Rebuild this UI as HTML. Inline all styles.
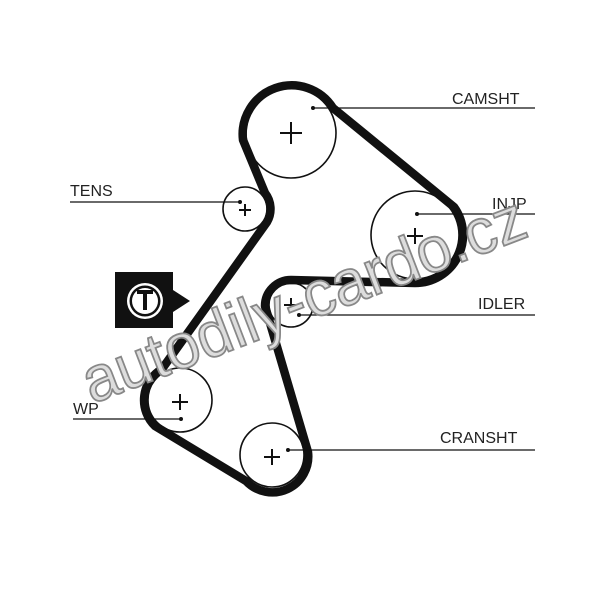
<!DOCTYPE html>
<html><head><style>
html,body{margin:0;padding:0;background:#fff;}
svg{display:block;}
text{font-family:"Liberation Sans",sans-serif;}
</style></head><body>
<svg width="600" height="589" viewBox="0 0 600 589">
<rect width="600" height="589" fill="#fff"/>
<g fill="none" stroke="#111" stroke-width="1.6">
<circle cx="291" cy="133" r="45"/>
<circle cx="245" cy="209" r="22"/>
<circle cx="415" cy="235" r="44"/>
<circle cx="291" cy="305" r="22"/>
<circle cx="180" cy="400" r="32"/>
<circle cx="272" cy="455" r="32"/>
</g>
<path d="M243,140 A49,49 0 0 1 333,108 L454,207 A48,48 0 0 1 415,283 L291,280 A26,26 0 0 0 265,306 L308,452 A36,36 0 0 1 246,481 L155,426 A36,36 0 0 1 162,369 L267,222 A26,26 0 0 0 265,193 Z" fill="none" stroke="#111" stroke-width="8.5" stroke-linejoin="round"/>
<g stroke="#111" stroke-width="2">
<path d="M280,133h22M291,122v22"/>
<path d="M239,210h12M245,204v12"/>
<path d="M407,236h16M415,228v16"/>
<path d="M284,305h14M291,298v14"/>
<path d="M172,402h16M180,394v16"/>
<path d="M264,457h16M272,449v16"/>
</g>
<g stroke="#111" stroke-width="1.3">
<line x1="313" y1="108" x2="535" y2="108"/>
<line x1="70" y1="202" x2="240" y2="202"/>
<line x1="417" y1="214" x2="535" y2="214"/>
<line x1="299" y1="315" x2="535" y2="315"/>
<line x1="73" y1="419" x2="181" y2="419"/>
<line x1="288" y1="450" x2="535" y2="450"/>
</g>
<g fill="#111">
<circle cx="313" cy="108" r="2"/><circle cx="240" cy="202" r="2"/>
<circle cx="417" cy="214" r="2"/><circle cx="299" cy="315" r="2"/>
<circle cx="181" cy="419" r="2"/><circle cx="288" cy="450" r="2"/>
</g>
<g font-size="16" fill="#222">
<text x="452" y="104">CAMSHT</text>
<text x="70" y="196">TENS</text>
<text x="492" y="209">INJP</text>
<text x="478" y="309">IDLER</text>
<text x="73" y="414">WP</text>
<text x="440" y="443">CRANSHT</text>
</g>
<polygon points="115,272 173,272 173,290 190,301 173,312 173,328 115,328" fill="#111"/>
<circle cx="145" cy="301" r="18" fill="#fff"/>
<circle cx="145" cy="301" r="15.5" fill="#111"/>
<circle cx="145" cy="301" r="13" fill="#fff"/>
<path d="M137,292h16M145,292v18" stroke="#111" stroke-width="4"/>
<text x="0" y="0" font-size="64" textLength="470" lengthAdjust="spacingAndGlyphs" fill="#ddd" stroke="#888" stroke-width="1.8" transform="translate(92,404) rotate(-21)">autodily-cardo.cz</text>
</svg>
</body></html>
